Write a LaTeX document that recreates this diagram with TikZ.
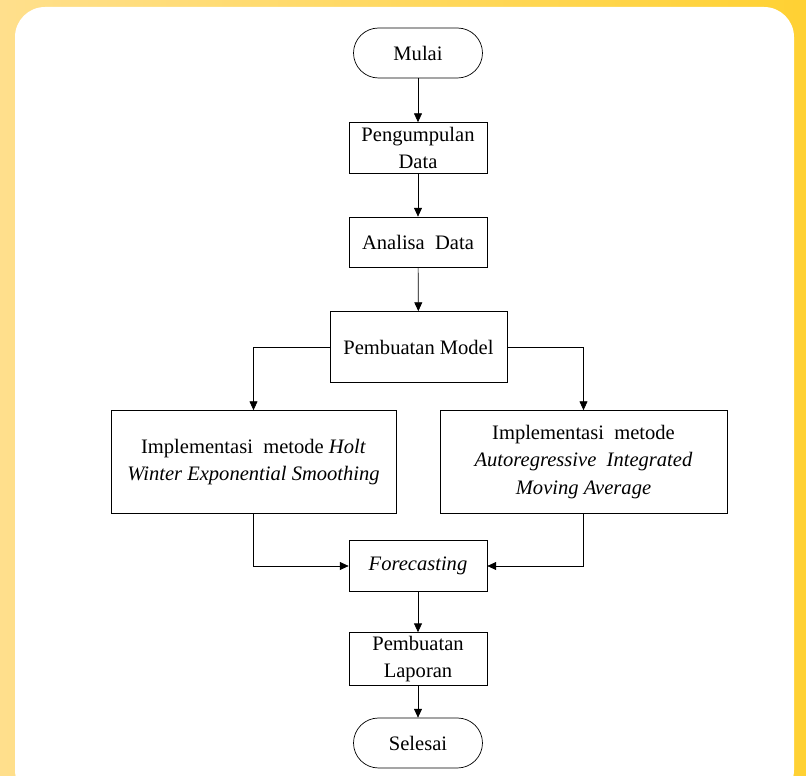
\documentclass[tikz,border=0pt]{standalone}
\usepackage{fontspec}
\setmainfont{Liberation Serif}
\usepackage{tikz}
\usetikzlibrary{arrows.meta}

\begin{document}
\begin{tikzpicture}[x=0.02cm, y=-0.02cm, font=\fontsize{11.7}{15.5}\selectfont,
			box_style/.style={rectangle,draw=black,thin,fill=white,align=center,inner sep=2pt},
			term_style/.style={rectangle,rounded corners=0.5cm,draw=black,thin,fill=white,minimum width=2.58cm,minimum height=1cm},
			edge_style/.style={draw=black,thin,-{Triangle[length=5pt,width=4.5pt]}}]
			\useasboundingbox (0,0) rectangle (806,776);
			% background
			\shade[left color=yellow!45!orange!45!white, right color=yellow!55!orange!80!white] (0,0) rectangle (806,776);
			\fill[white, rounded corners=0.6cm] (15,7) rectangle (794,800);
			\node[term_style] (mulai) at (418,53) {Mulai};
			\node[box_style, minimum width=2.76cm, minimum height=1.02cm] (kumpul) at (418,148) {Pengumpulan\\Data};
			\node[box_style, minimum width=2.76cm, minimum height=1cm] (analisa) at (418,242) {Analisa\ \ Data};
			\node[box_style, minimum width=3.54cm, minimum height=1.42cm] (model) at (418.5,347) {Pembuatan Model};
			\node[box_style, minimum width=5.7cm, minimum height=2.06cm] (holt) at (253.5,462) {Implementasi\ \ metode \textit{Holt}\\\textit{Winter Exponential Smoothing}};
			\node[box_style, minimum width=5.74cm, minimum height=2.06cm] (arima) at (583.5,462) {Implementasi\ \ metode\\\textit{Autoregressive\ \ Integrated}\\\textit{Moving Average}};
			\node[box_style, minimum width=2.76cm, minimum height=1.02cm] (forecast) at (418,566) {\textit{Forecasting}};
			\node[box_style, minimum width=2.76cm, minimum height=1.04cm] (laporan) at (418,659) {Pembuatan\\Laporan};
			\node[term_style] (selesai) at (418,743) {Selesai};
			\draw[edge_style]  (mulai) -- (kumpul);
			\draw[edge_style]  (kumpul) -- (analisa);
			\draw[edge_style]  (analisa) -- (model);
			\draw[edge_style]  (model.west) -| (holt.north);
			\draw[edge_style]  (model.east) -| (arima.north);
			\draw[edge_style]  (holt.south) |- (forecast.west);
			\draw[edge_style]  (arima.south) |- (forecast.east);
			\draw[edge_style]  (forecast) -- (laporan);
			\draw[edge_style]  (laporan) -- (selesai);
			\end{tikzpicture}
\end{document}
